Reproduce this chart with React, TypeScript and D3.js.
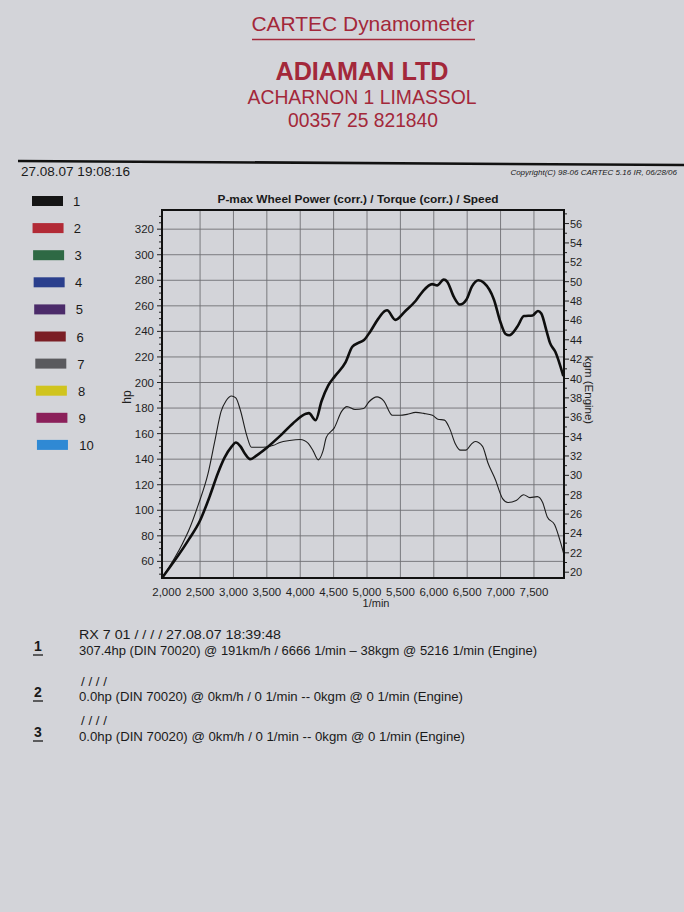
import React from "react";
import * as d3 from "d3";

// ---------- data ----------
const rpmPower = [1930, 2330, 2500, 2645, 2767, 2865, 2975, 3035, 3105, 3175, 3250, 3350, 3500, 3695, 3890, 4085, 4130, 4230, 4320, 4420, 4520, 4680, 4780, 4870, 4950, 5050, 5170, 5270, 5300, 5425, 5575, 5730, 5830, 5975, 6050, 6150, 6200, 6300, 6390, 6490, 6570, 6670, 6750, 6900, 7000, 7075, 7130, 7255, 7350, 7480, 7560, 7610, 7690, 7740, 7820, 7940];
const powerHp = [47, 77, 92, 111, 129, 141, 150, 153, 150, 144, 140, 143, 149, 158, 168, 175.5, 176, 170.5, 185.5, 197.7, 205, 216, 228, 231, 233, 240, 250, 256, 256.5, 249, 256, 264, 271, 277, 276, 280.5, 279, 267, 261, 265, 275, 280, 278, 265, 247, 238, 237, 244, 252, 252.5, 256, 254, 240, 231, 224, 205];

const rpmTorque = [1930, 2240, 2330, 2475, 2620, 2720, 2815, 2890, 2970, 3035, 3105, 3200, 3270, 3445, 3600, 3695, 3840, 4000, 4120, 4195, 4270, 4340, 4390, 4510, 4620, 4700, 4820, 4950, 5030, 5150, 5250, 5380, 5500, 5600, 5730, 5850, 5980, 6060, 6160, 6240, 6320, 6400, 6480, 6560, 6620, 6730, 6810, 6920, 7030, 7110, 7234, 7345, 7440, 7550, 7630, 7700, 7810, 7910, 7950];
const torqueKgm = [19.4, 23.0, 24.3, 27.0, 30.2, 33.5, 36.6, 37.7, 38.2, 38.0, 36.7, 34.1, 32.9, 32.9, 33.1, 33.4, 33.6, 33.7, 33.3, 32.5, 31.6, 32.5, 33.9, 34.9, 36.6, 37.1, 36.8, 36.9, 37.6, 38.1, 37.7, 36.2, 36.2, 36.3, 36.5, 36.4, 36.2, 35.8, 35.7, 34.8, 33.3, 32.6, 32.6, 33.2, 33.5, 33.0, 31.3, 29.6, 27.6, 27.2, 27.4, 28.0, 27.7, 27.8, 27.2, 25.7, 24.9, 22.8, 21.8];

const rpmTicks = [2000, 2500, 3000, 3500, 4000, 4500, 5000, 5500, 6000, 6500, 7000, 7500];
const hpTicks = [60, 80, 100, 120, 140, 160, 180, 200, 220, 240, 260, 280, 300, 320];
const kgmTicks = [20, 22, 24, 26, 28, 30, 32, 34, 36, 38, 40, 42, 44, 46, 48, 50, 52, 54, 56];

const legendLabels = ["1", "2", "3", "4", "5", "6", "7", "8", "9", "10"];
const legendColors = ["#151515", "#b22a36", "#2e6944", "#2a3f8d", "#4b2b6a", "#7b1e25", "#5a5a5e", "#d0c41e", "#8b205a", "#2f89d4"];

const headerLines = ["CARTEC Dynamometer", "ADIAMAN LTD", "ACHARNON 1 LIMASSOL", "00357 25 821840"];
const runNumbers = ["1", "2", "3"];
const runTitles = ["RX 7  01 / / / / 27.08.07 18:39:48", "/ / / /", "/ / / /"];
const runResults = [
  "307.4hp (DIN 70020) @ 191km/h / 6666 1/min – 38kgm @ 5216 1/min (Engine)",
  "0.0hp (DIN 70020) @ 0km/h / 0 1/min -- 0kgm @ 0 1/min (Engine)",
  "0.0hp (DIN 70020) @ 0km/h / 0 1/min -- 0kgm @ 0 1/min (Engine)",
];

// ---------- layout ----------
const W = 684;
const H = 912;
const L = 162, R = 564, T = 210, B = 578;
const RED = "#a3283a";
const FONT = "'Liberation Sans', Arial, Helvetica, sans-serif";

export default function App() {
  const x = d3.scaleLinear().domain([1930, 7950]).range([L, R]);
  const yHp = d3.scaleLinear().domain([47, 335]).range([B, T]);
  const yKgm = d3.scaleLinear().domain([19.4, 57.4]).range([B, T]);

  const powerPts: [number, number][] = rpmPower.map((r, i) => [r, powerHp[i]]);
  const torquePts: [number, number][] = rpmTorque.map((r, i) => [r, torqueKgm[i]]);

  const powerLine = d3
    .line<[number, number]>()
    .x((d) => x(d[0]))
    .y((d) => yHp(d[1]))
    .curve(d3.curveMonotoneX);
  const torqueLine = d3
    .line<[number, number]>()
    .x((d) => x(d[0]))
    .y((d) => yKgm(d[1]))
    .curve(d3.curveMonotoneX);

  const hpMinor = d3.range(50, 335, 5).filter((v) => v % 20 !== 0);
  const kgmMinor = d3.range(20, 57.4, 1).filter((v) => v % 2 !== 0);

  return (
    <svg
      width={W}
      height={H}
      viewBox={`0 0 ${W} ${H}`}
      style={{ position: "absolute", left: 0, top: 0, display: "block" }}
      fontFamily={FONT}
    >
      <rect x={0} y={0} width={W} height={H} fill="#d3d4d9" />

      {/* header */}
      <text x={363} y={31} textAnchor="middle" fontSize={21} fill={RED} textLength={223} lengthAdjust="spacingAndGlyphs">
        {headerLines[0]}
      </text>
      <line x1={252} x2={475} y1={39.5} y2={39.5} stroke={RED} strokeWidth={1.6} />
      <text x={362} y={80} textAnchor="middle" fontSize={25} fontWeight="bold" fill={RED} textLength={173} lengthAdjust="spacingAndGlyphs">
        {headerLines[1]}
      </text>
      <text x={362} y={104} textAnchor="middle" fontSize={20} fill={RED} textLength={229} lengthAdjust="spacingAndGlyphs">
        {headerLines[2]}
      </text>
      <text x={363} y={127} textAnchor="middle" fontSize={20} fill={RED} textLength={150} lengthAdjust="spacingAndGlyphs">
        {headerLines[3]}
      </text>

      <line x1={18} x2={684} y1={161} y2={165} stroke="#111" strokeWidth={2.6} />
      <text x={21} y={176} fontSize={13.5} fill="#1a1a1a" textLength={109} lengthAdjust="spacingAndGlyphs">
        27.08.07 19:08:16
      </text>
      <text x={677} y={175} textAnchor="end" fontSize={8} fontStyle="italic" fill="#1a1a1a">
        Copyright(C) 98-06 CARTEC 5.16 IR, 06/28/06
      </text>

      {/* legend */}
      {legendLabels.map((lab, i) => {
        const top = 196 + i * 27.1;
        const sx = 32 + i * 0.55;
        return (
          <g key={lab}>
            <rect x={sx} y={top} width={31} height={10} fill={legendColors[i]} />
            <text x={73 + i * 0.7} y={top + 10} fontSize={13} fill="#1a1a1a">
              {lab}
            </text>
          </g>
        );
      })}

      {/* title */}
      <text x={358} y={203} textAnchor="middle" fontSize={10.5} fontWeight="bold" fill="#1a1a1a" textLength={281} lengthAdjust="spacingAndGlyphs">
        P-max Wheel Power (corr.) / Torque (corr.) / Speed
      </text>

      {/* grid */}
      <g stroke="#6f6f74" strokeWidth={0.9}>
        {rpmTicks
          .filter((r) => r > 2000)
          .map((r) => (
            <line key={"v" + r} x1={x(r)} x2={x(r)} y1={T} y2={B} />
          ))}
        {hpTicks.map((h) => (
          <line key={"h" + h} x1={L} x2={R} y1={yHp(h)} y2={yHp(h)} />
        ))}
      </g>

      {/* left axis */}
      <g stroke="#222" strokeWidth={1}>
        {hpTicks.map((h) => (
          <line key={"lt" + h} x1={L - 5} x2={L} y1={yHp(h)} y2={yHp(h)} />
        ))}
        {hpMinor.map((h) => (
          <line key={"lm" + h} x1={L - 3} x2={L} y1={yHp(h)} y2={yHp(h)} />
        ))}
      </g>
      {hpTicks.map((h) => (
        <text key={"ll" + h} x={L - 8} y={yHp(h) + 4} textAnchor="end" fontSize={11.5} fill="#1f1f1f">
          {h}
        </text>
      ))}
      <text transform={`translate(131,397) rotate(-90)`} textAnchor="middle" fontSize={12} fill="#1f1f1f">
        hp
      </text>

      {/* right axis */}
      <g stroke="#222" strokeWidth={1}>
        {kgmTicks.map((k) => (
          <line key={"rt" + k} x1={R} x2={R + 5} y1={yKgm(k)} y2={yKgm(k)} />
        ))}
        {kgmMinor.map((k) => (
          <line key={"rm" + k} x1={R} x2={R + 3} y1={yKgm(k)} y2={yKgm(k)} />
        ))}
      </g>
      {kgmTicks.map((k) => (
        <text key={"rl" + k} x={R + 6} y={yKgm(k) + 4} fontSize={11} fill="#1f1f1f">
          {k}
        </text>
      ))}
      <text transform={`translate(585,390) rotate(90)`} textAnchor="middle" fontSize={11.5} fill="#1f1f1f">
        kgm (Engine)
      </text>

      {/* bottom axis labels */}
      {rpmTicks.map((r) => (
        <text key={"xl" + r} x={x(r)} y={596} textAnchor="middle" fontSize={11.5} fill="#1f1f1f">
          {d3.format(",")(r)}
        </text>
      ))}
      <text x={376} y={607} textAnchor="middle" fontSize={11} fill="#1f1f1f">
        1/min
      </text>

      {/* curves */}
      <path d={torqueLine(torquePts) || ""} fill="none" stroke="#1e1e1e" strokeWidth={1.1} strokeLinejoin="round" />
      <path d={powerLine(powerPts) || ""} fill="none" stroke="#0e0e0e" strokeWidth={2.6} strokeLinejoin="round" />

      {/* frame */}
      <rect x={L} y={T} width={R - L} height={B - T} fill="none" stroke="#111" strokeWidth={2} />

      {/* run results */}
      {runNumbers.map((n, i) => {
        const base = [651, 697, 737][i];
        const titleY = [639, 686, 725][i];
        const resY = [655, 701, 741][i];
        const resW = [458, 384, 386][i];
        return (
          <g key={"run" + n}>
            <text x={34} y={base} fontSize={14} fontWeight="bold" fill="#1a1a1a">
              {n}
            </text>
            <line x1={33} x2={43} y1={base + 4} y2={base + 4} stroke="#1a1a1a" strokeWidth={1.3} />
            <text x={i === 0 ? 79 : 81} y={titleY} fontSize={12.5} fill="#1a1a1a" textLength={i === 0 ? 202 : 26} lengthAdjust="spacingAndGlyphs">
              {runTitles[i]}
            </text>
            <text x={79} y={resY} fontSize={13} fill="#1a1a1a" textLength={resW} lengthAdjust="spacingAndGlyphs">
              {runResults[i]}
            </text>
          </g>
        );
      })}
    </svg>
  );
}
